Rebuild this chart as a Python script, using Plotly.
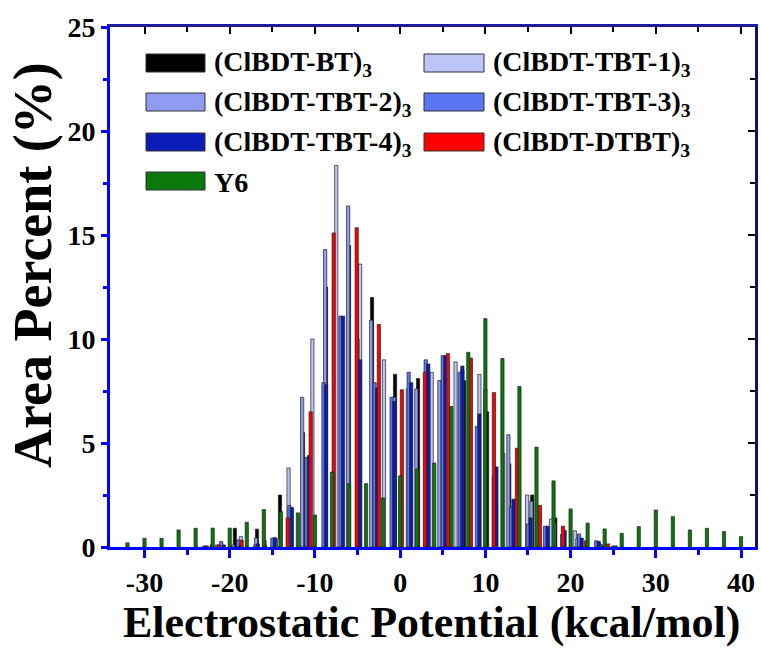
import plotly.graph_objects as go

# ---------------- data ----------------
series_names = ["(ClBDT-BT)<sub>3</sub>", "(ClBDT-TBT-1)<sub>3</sub>", "(ClBDT-TBT-2)<sub>3</sub>",
                "(ClBDT-TBT-3)<sub>3</sub>", "(ClBDT-TBT-4)<sub>3</sub>", "(ClBDT-DTBT)<sub>3</sub>", "Y6"]

bt_x = [-22.1, -19.4, -16.8, -14.1, -11.4, -8.7, -6.0, -3.3, -0.6, 2.1, 4.8, 7.5, 10.2, 12.8, 15.5, 18.2, 20.9, 23.6]
bt_y = [0.1, 0.9, 0.86, 2.5, 5.5, 12.5, 14.5, 12.0, 8.3, 8.1, 8.0, 8.0, 6.5, 4.0, 2.5, 1.4, 0.4, 0.1]

tbt1_x = [-21.5, -18.7, -15.9, -13.1, -10.3, -7.5, -4.7, -1.9, 0.9, 3.7, 6.5, 9.3, 12.1, 14.9, 17.7, 20.5, 23.3]
tbt1_y = [0.1, 0.5, 0.3, 3.8, 10.0, 18.35, 13.6, 9.0, 7.6, 8.4, 8.9, 8.3, 4.5, 2.5, 1.35, 0.78, 0.2]

tbt2_x = [-19.6, -16.9, -14.2, -11.5, -8.8, -6.1, -3.4, -0.7, 1.9, 4.6, 7.3, 10.0, 12.7, 15.4, 18.1, 20.8, 23.5]
tbt2_y = [0.1, 0.43, 0.4, 7.2, 14.3, 16.4, 10.9, 7.2, 7.6, 8.0, 8.5, 7.6, 5.4, 2.2, 1.15, 0.4, 0.1]

tbt3_x = [-23, -21, -19, -17, -15, -13, -11, -9, -7, -5, -3, -1, 1, 3, 5, 7, 9, 11, 13, 15, 17, 19, 21, 23, 25]
tbt3_y = [0.05, 0.26, 0.34, 0.1, 0.43, 2.0, 4.3, 7.9, 11.1, 10.0, 7.9, 7.2, 8.4, 9.0, 9.2, 8.4, 5.8, 3.4, 1.9,
          1.1, 1.0, 0.6, 0.63, 0.3, 0.05]

tbt4_x = [-22.7, -20.7, -18.7, -16.7, -14.7, -12.7, -10.7, -8.7, -6.7, -4.7, -2.7, -0.7, 1.3, 3.3, 5.3, 7.3, 9.3,
          11.3, 13.3, 15.3, 17.3, 19.3, 21.3, 23.3, 25.3]
tbt4_y = [0.05, 0.1, 0.1, 0.15, 0.45, 1.9, 4.4, 7.8, 11.1, 9.0, 7.65, 7.0, 7.9, 8.8, 9.2, 8.7, 6.4, 3.85, 2.3,
          1.4, 1.0, 0.8, 0.43, 0.27, 0.05]

dtbt_x = [-21.3, -18.6, -15.9, -13.2, -10.5, -7.8, -5.1, -2.5, 0.2, 2.9, 5.6, 8.3, 11.0, 13.7, 16.4, 19.1, 21.8, 24.4]
dtbt_y = [0.1, 0.33, 0.1, 1.4, 6.5, 15.1, 15.35, 10.7, 7.56, 8.4, 9.3, 9.08, 7.43, 4.75, 2.0, 1.0, 0.3, 0.15]

y6_x = [-32, -30, -28, -26, -24, -22, -20, -18, -16, -14, -12, -10, -8, -6, -4, -2, 0, 2, 4, 6, 8, 10, 12, 14,
        16, 18, 20, 22, 24, 26, 28, 30, 32, 34, 36, 38, 40]
y6_y = [0.2, 0.42, 0.42, 0.82, 0.9, 0.91, 0.91, 1.19, 1.8, 1.7, 1.64, 1.54, 3.6, 3.05, 3.05, 2.36, 3.42, 3.75,
        4.04, 6.76, 9.36, 10.98, 9.06, 7.72, 4.8, 3.18, 1.83, 1.15, 0.87, 0.66, 0.98, 1.78, 1.46, 0.82, 0.9,
        0.74, 0.5]

x_ticks = [-30, -20, -10, 0, 10, 20, 30, 40]
y_ticks = [0, 5, 10, 15, 20, 25]
x_title = "Electrostatic Potential (kcal/mol)"
y_title = "Area Percent (%)"

# ---------------- style ----------------
colors = ["#000000", "#BCC4F8", "#8F9CF2", "#5A76F2", "#0A1CB8", "#FF0000", "#0A780A"]
FONT = "Liberation Serif"
W, H = 761, 650
L, R, T, B = 110, 6, 27, 103

xs = [bt_x, tbt1_x, tbt2_x, tbt3_x, tbt4_x, dtbt_x, y6_x]
ys = [bt_y, tbt1_y, tbt2_y, tbt3_y, tbt4_y, dtbt_y, y6_y]

fig = go.Figure()
for name, x, y, c in zip(series_names, xs, ys, colors):
    fig.add_trace(go.Bar(x=x, y=y, name=name, width=0.38,
                         marker=dict(color=c, line=dict(color="#222222", width=0.7)),
                         showlegend=False))
# empty trace so the mirrored top/right frame axes get drawn
fig.add_trace(go.Scatter(x=[None], y=[None], xaxis="x2", yaxis="y2", showlegend=False,
                         hoverinfo="skip"))

pw = W - L - R
ph = H - T - B
def px(xp):
    return (xp - L) / pw
def py(yp):
    return (H - B - yp) / ph

# manual legend (large swatches like the reference)
leg_cols = [(146, 205, 212), (424, 484, 491)]
leg_rows = [63, 102, 142, 181]
shapes = []
annotations = []
for i, (name, c) in enumerate(zip(series_names, colors)):
    r, col = divmod(i, 2)
    x0, x1, xt = leg_cols[col]
    yc = leg_rows[r]
    shapes.append(dict(type="rect", xref="paper", yref="paper",
                       x0=px(x0), x1=px(x1), y0=py(yc + 9), y1=py(yc - 9),
                       fillcolor=c, line=dict(color="#333333", width=1)))
    annotations.append(dict(xref="paper", yref="paper", x=px(xt), y=py(yc + 1), text="<b>" + name + "</b>",
                            xanchor="left", yanchor="middle", showarrow=False,
                            font=dict(family=FONT, size=28, color="black")))

# axis titles placed as in the reference
annotations.append(dict(xref="paper", yref="paper", x=px(431), y=py(622), text="<b>" + x_title + "</b>",
                        xanchor="center", yanchor="middle", showarrow=False,
                        font=dict(family=FONT, size=44, color="black")))
annotations.append(dict(xref="paper", yref="paper", x=px(33), y=py(265), text="<b>" + y_title + "</b>",
                        xanchor="center", yanchor="middle", showarrow=False, textangle=-90,
                        font=dict(family=FONT, size=54, color="black")))

fig.update_layout(
    width=W, height=H,
    margin=dict(l=L, r=R, t=T, b=B, autoexpand=False),
    barmode="overlay",
    plot_bgcolor="white", paper_bgcolor="white",
    shapes=shapes, annotations=annotations,
    font=dict(family=FONT, size=28, color="black"),
    xaxis=dict(range=[-34.05, 41.64], tickvals=x_ticks, ticktext=["<b>%d</b>" % v for v in x_ticks],
               showline=True, linecolor="#0000FF", linewidth=3, ticks="outside", tickcolor="#0000FF",
               tickwidth=2.5, ticklen=8, showgrid=False, zeroline=False, automargin=False,
               minor=dict(dtick=5, tick0=0, ticks="outside", ticklen=5, tickcolor="#0000FF", tickwidth=2.5),
               tickfont=dict(family=FONT, size=28)),
    yaxis=dict(range=[0, 25], tickvals=y_ticks, ticktext=["<b>%d</b>" % v for v in y_ticks],
               showline=True, linecolor="#0000FF", linewidth=3, ticks="outside", tickcolor="#0000FF",
               tickwidth=2.5, ticklen=6, showgrid=False, zeroline=False, automargin=False,
               minor=dict(dtick=2.5, tick0=0, ticks="outside", ticklen=4, tickcolor="#0000FF", tickwidth=2.5),
               tickfont=dict(family=FONT, size=28)),
    xaxis2=dict(overlaying="x", side="top", anchor="y", matches="x", showline=True, linecolor="#1C1C9C",
                linewidth=3, ticks="inside", tickcolor="black", tickwidth=2, ticklen=7, tickvals=x_ticks,
                showticklabels=False, showgrid=False, zeroline=False,
                minor=dict(dtick=5, tick0=0, ticks="inside", ticklen=5, tickcolor="black", tickwidth=2)),
    yaxis2=dict(overlaying="y", side="right", anchor="x", matches="y", showline=True, linecolor="#12125E",
                linewidth=3, ticks="inside", tickcolor="black", tickwidth=2, ticklen=7, tickvals=y_ticks,
                showticklabels=False, showgrid=False, zeroline=False,
                minor=dict(dtick=2.5, tick0=0, ticks="inside", ticklen=5, tickcolor="black", tickwidth=2)),
)

fig.write_html("out.html", config={"displayModeBar": False},
               post_script="document.body.style.margin='0';")
